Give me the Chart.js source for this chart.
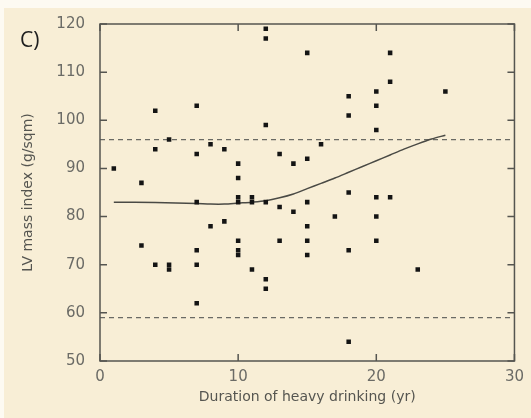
<!DOCTYPE html>
<html>
<head>
<meta charset="utf-8">
<script src="https://cdn.jsdelivr.net/npm/chart.js@4.4.0/dist/chart.umd.min.js"></script>
<style>
  html, body { margin: 0; padding: 0; background: #fdfaf2; }
  #wrap { width: 531px; height: 418px; }
</style>
</head>
<body>
<div id="wrap"><canvas id="lvChart" width="531" height="418"></canvas></div>
<script>
// scatter points: duration of heavy drinking (yr) vs LV mass index (g/sqm)
const durationYr = [1, 3, 3, 4, 4, 4, 5, 5, 5,
  7, 7, 7, 7, 7, 7, 8, 8, 9, 9,
  10, 10, 10, 10, 10, 10, 10, 11, 11, 11,
  12, 12, 12, 12, 12, 12, 13, 13, 13, 14, 14,
  15, 15, 15, 15, 15, 15, 16, 17,
  18, 18, 18, 18, 18, 20, 20, 20, 20, 20, 20,
  21, 21, 21, 23, 25];
const lvMassIndex = [90, 87, 74, 102, 94, 70, 96, 70, 69,
  103, 93, 83, 73, 70, 62, 95, 78, 94, 79,
  91, 88, 84, 83, 75, 73, 72, 84, 83, 69,
  119, 117, 99, 83, 67, 65, 93, 82, 75, 91, 81,
  114, 92, 83, 78, 75, 72, 95, 80,
  105, 101, 85, 73, 54, 106, 103, 98, 84, 80, 75,
  114, 108, 84, 69, 106];

// smoothed curve
const curveYr = [1, 4, 7, 8, 9, 10, 11, 12, 13, 14, 15, 16, 17, 18, 19, 20, 21, 22, 23, 24, 25];
const curveLv = [83, 82.9, 82.7, 82.6, 82.6, 82.8, 83, 83.3, 83.9, 84.7, 85.8, 86.9, 88, 89.2, 90.4, 91.6, 92.8, 94, 95.1, 96.1, 96.9];

// normal range limits (dashed)
const rangeYr = [0, 30];
const upperLimit = [96, 96];
const lowerLimit = [59, 59];

const xTicks = [0, 10, 20, 30];
const yTicks = [50, 60, 70, 80, 90, 100, 110, 120];

const toXY = (xs, ys) => xs.map((x, i) => ({ x: x, y: ys[i] }));

const bgPlugin = {
  id: 'bg',
  beforeDraw(chart) {
    const c = chart.ctx;
    c.save();
    c.fillStyle = '#fdfaf2';
    c.fillRect(0, 0, chart.width, chart.height);
    c.fillStyle = '#f8eed6';
    c.fillRect(4, 8, chart.width - 4, chart.height - 8);
    c.restore();
  }
};

const framePlugin = {
  id: 'frame',
  afterDatasetsDraw(chart) {
    const c = chart.ctx;
    const a = chart.chartArea;
    const xs = chart.scales.x, ys = chart.scales.y;
    const len = 7;
    c.save();
    c.strokeStyle = '#555550';
    c.lineWidth = 1.5;
    c.strokeRect(a.left, a.top, a.right - a.left, a.bottom - a.top);
    c.beginPath();
    xTicks.forEach(v => {
      const px = xs.getPixelForValue(v);
      c.moveTo(px, a.bottom); c.lineTo(px, a.bottom - len);
      c.moveTo(px, a.top); c.lineTo(px, a.top + len);
    });
    yTicks.forEach(v => {
      const py = ys.getPixelForValue(v);
      c.moveTo(a.left, py); c.lineTo(a.left + len, py);
      c.moveTo(a.right, py); c.lineTo(a.right - len, py);
    });
    c.stroke();
    // panel letter
    c.fillStyle = '#1e1e1e';
    c.font = '21px "Open Sans", sans-serif';
    c.textBaseline = 'middle';
    c.fillText('C)', 20, 41);
    c.restore();
  }
};

const tickFont = { family: '"DejaVu Sans", sans-serif', size: 15 };
const titleFont = { family: '"DejaVu Sans", sans-serif', size: 14 };

new Chart(document.getElementById('lvChart'), {
  type: 'scatter',
  data: {
    datasets: [
      {
        data: toXY(durationYr, lvMassIndex),
        pointStyle: 'rect',
        pointRadius: 3.2,
        backgroundColor: '#141414',
        borderColor: '#141414',
        borderWidth: 0
      },
      {
        data: toXY(curveYr, curveLv),
        showLine: true,
        pointRadius: 0,
        borderColor: '#4a4a45',
        borderWidth: 1.5,
        tension: 0.3
      },
      {
        data: toXY(rangeYr, upperLimit),
        showLine: true,
        pointRadius: 0,
        borderColor: '#6a6a64',
        borderWidth: 1.2,
        borderDash: [5, 4]
      },
      {
        data: toXY(rangeYr, lowerLimit),
        showLine: true,
        pointRadius: 0,
        borderColor: '#6a6a64',
        borderWidth: 1.2,
        borderDash: [5, 4]
      }
    ]
  },
  options: {
    responsive: false,
    animation: false,
    layout: { padding: { top: 24, right: 11, left: 0, bottom: 0 } },
    plugins: { legend: { display: false }, tooltip: { enabled: false } },
    scales: {
      x: {
        min: 0, max: 30,
        grid: { display: false, drawTicks: false },
        border: { display: false },
        afterBuildTicks: s => { s.ticks = xTicks.map(v => ({ value: v })); },
        afterFit: s => { s.height = 57; },
        ticks: { color: '#6b6b66', font: tickFont, padding: 7, maxRotation: 0 },
        title: {
          display: true,
          text: 'Duration of heavy drinking (yr)',
          color: '#555550',
          font: titleFont,
          padding: { top: 0, bottom: 12 }
        }
      },
      y: {
        min: 50, max: 120,
        grid: { display: false, drawTicks: false },
        border: { display: false },
        afterBuildTicks: s => { s.ticks = yTicks.map(v => ({ value: v })); },
        afterFit: s => { s.width = 100; },
        ticks: { color: '#6b6b66', font: tickFont, padding: 15 },
        title: {
          display: true,
          text: 'LV mass index (g/sqm)',
          color: '#555550',
          font: titleFont,
          padding: { top: 20, bottom: 0 }
        }
      }
    }
  },
  plugins: [bgPlugin, framePlugin]
});
</script>
</body>
</html>
